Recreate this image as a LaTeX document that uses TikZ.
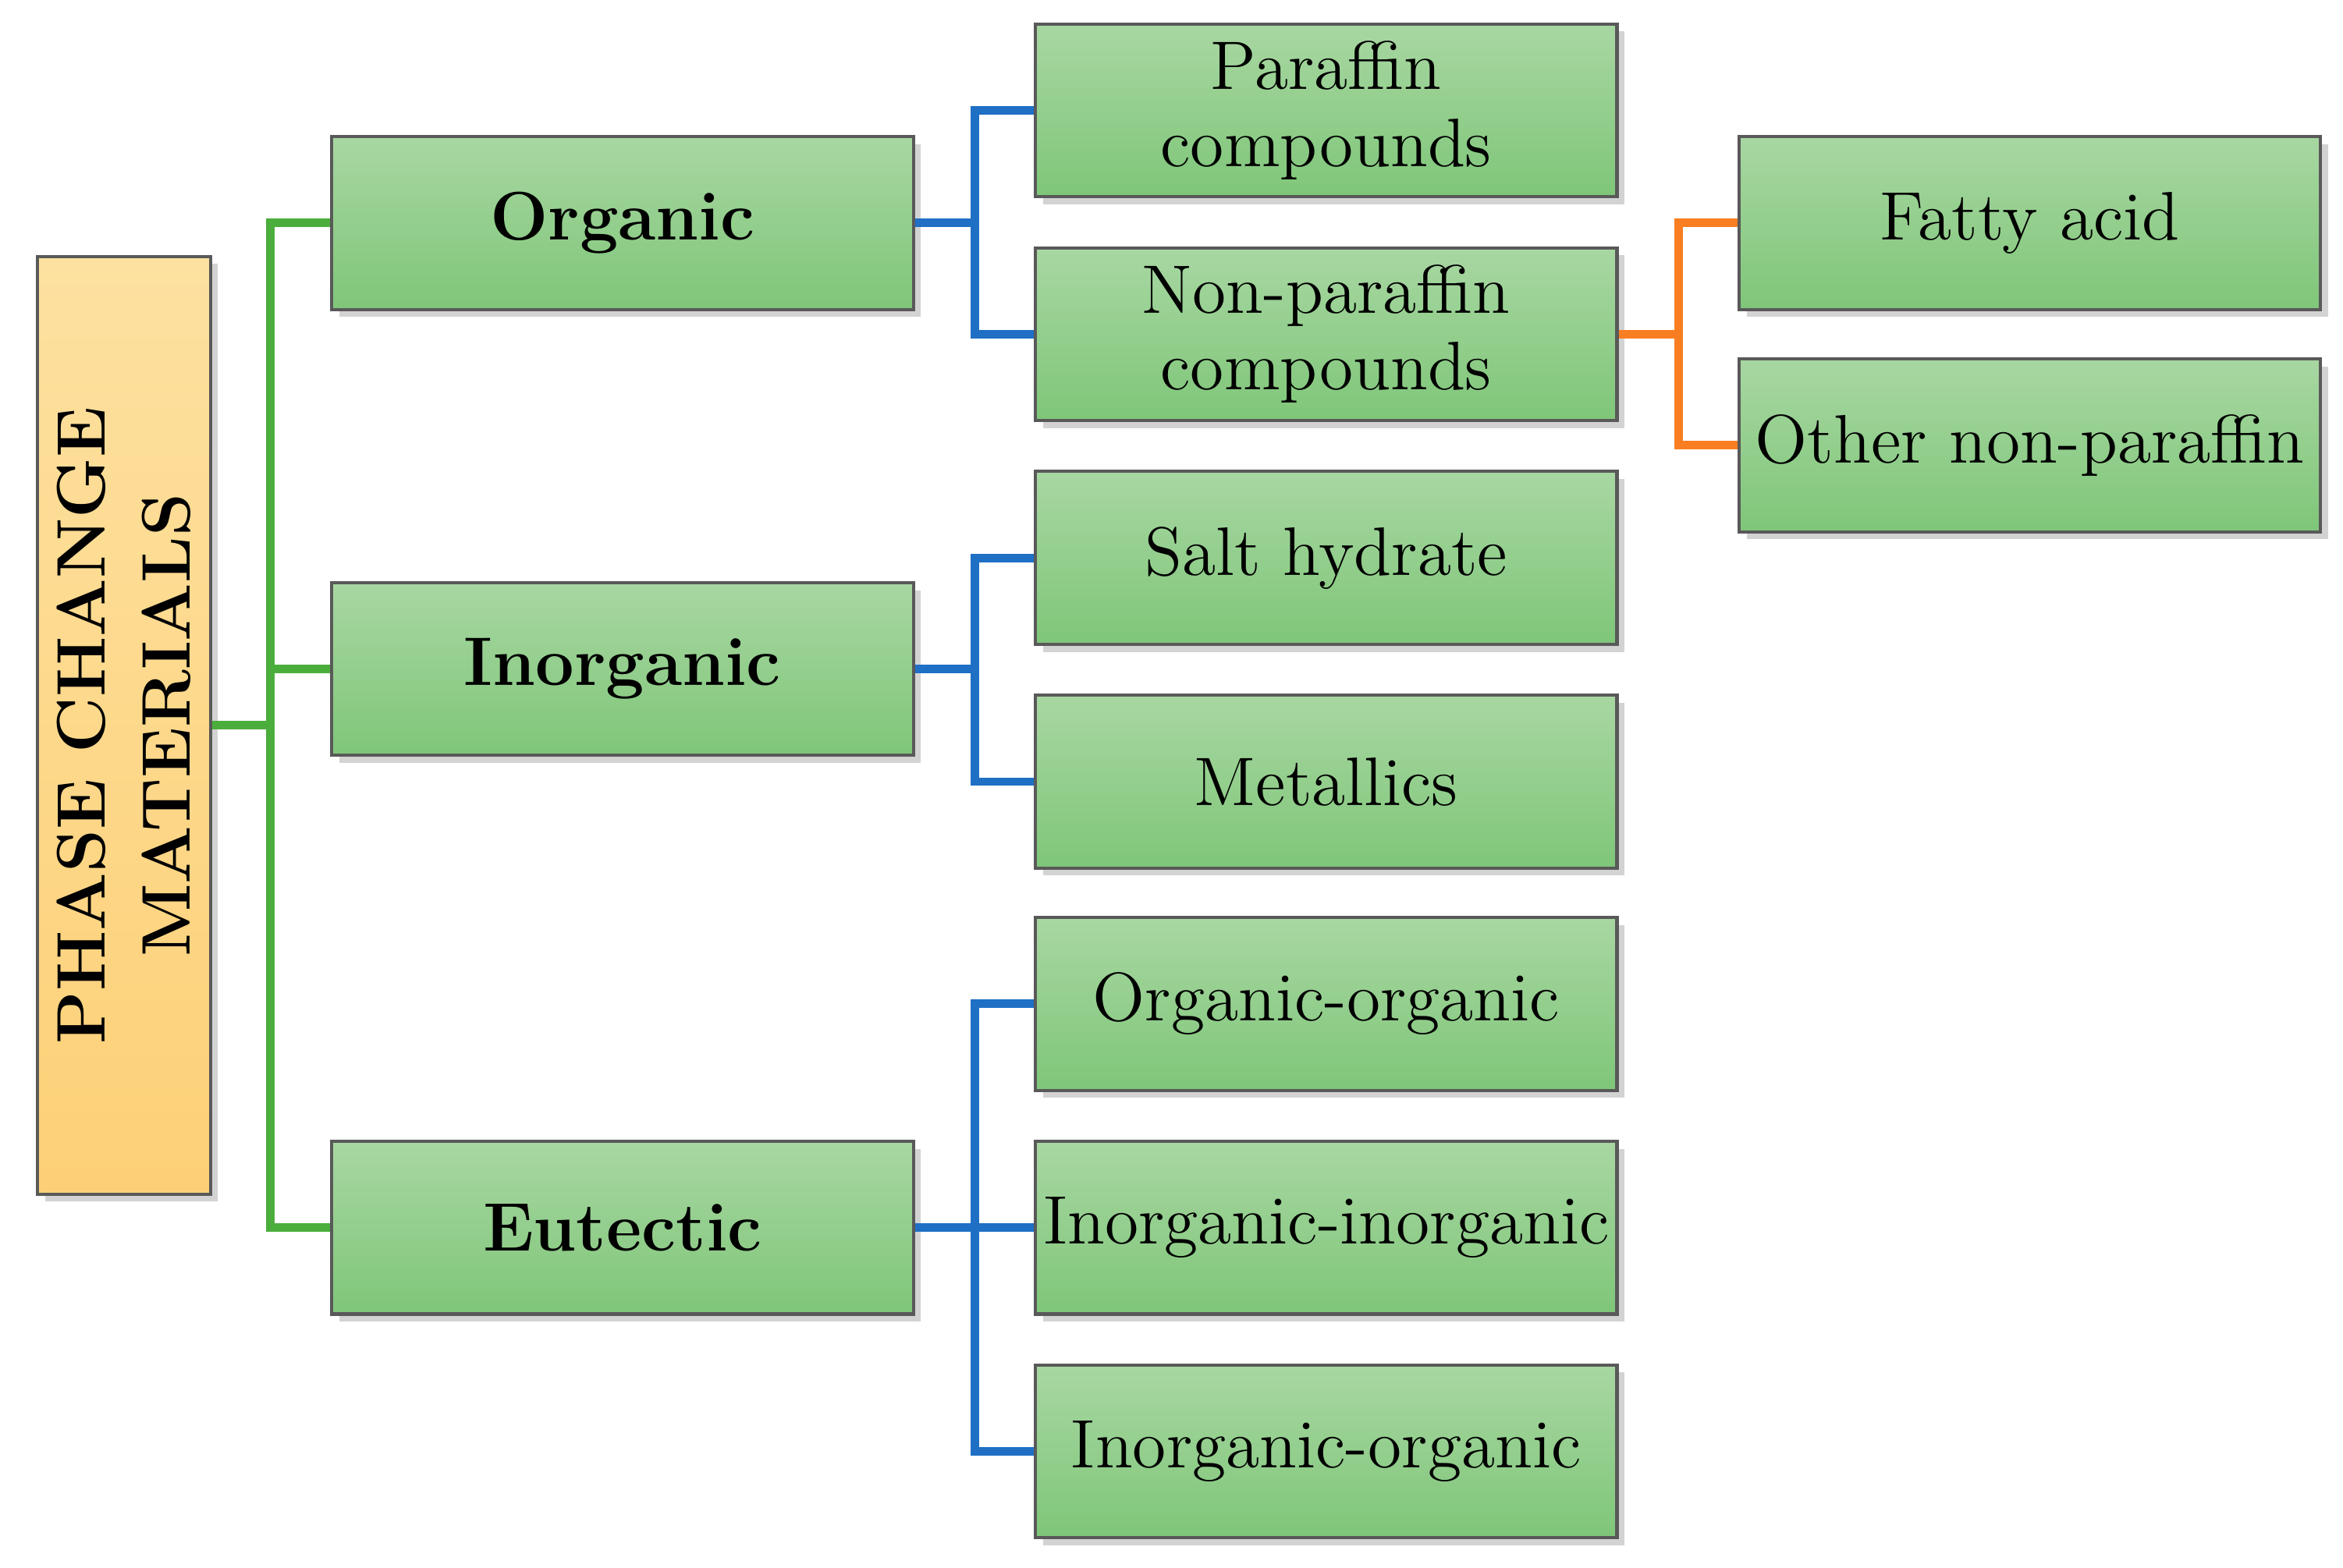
\documentclass[tikz,border=0pt]{standalone}
\usetikzlibrary{shadows}
\definecolor{gtop}{HTML}{A8D7A2}
\definecolor{gbot}{HTML}{7FC679}
\definecolor{otop}{HTML}{FDE1A0}
\definecolor{obot}{HTML}{FDD077}
\definecolor{lgreen}{HTML}{4BAE3C}
\definecolor{lblue}{HTML}{1F6FC5}
\definecolor{lorange}{HTML}{F97E22}
\tikzset{
 box/.style={draw=gray!70!black, line width=0.6pt, top color=gtop, bottom color=gbot,
   minimum width=3.87cm, minimum height=1.15cm, inner sep=0pt, align=center,
   font=\fontsize{13}{14.5}\selectfont, drop shadow={opacity=0.35, shadow xshift=0.5mm, shadow yshift=-0.5mm}},
 bbox/.style={box, font=\fontsize{13}{14.5}\selectfont\bfseries},
 gl/.style={draw=lgreen, line width=1.6pt},
 bl/.style={draw=lblue, line width=1.6pt},
 ol/.style={draw=lorange, line width=1.6pt}
}
\begin{document}
\begin{tikzpicture}[x=0.01cm,y=-0.01cm]
\useasboundingbox (0,0) rectangle (1560,1044);
\node[draw=gray!70!black, line width=0.6pt, top color=otop, bottom color=obot, minimum width=1.15cm, minimum height=6.24cm,
  drop shadow={opacity=0.35, shadow xshift=0.5mm, shadow yshift=-0.5mm}] (pcm) at (82.5,483) {};
\node[rotate=90, align=center, font=\fontsize{13}{16}\selectfont\bfseries] at (pcm.center) {PHASE CHANGE\\MATERIALS};
\node[bbox] (org) at (414.5,148.5) {Organic};
\node[bbox] (inorg) at (414.5,445.5) {Inorganic};
\node[bbox] (eut) at (414.5,817.5) {Eutectic};
\node[box] (par) at (883,73.5) {Paraffin\\compounds};
\node[box] (npar) at (883,222.5) {Non-paraffin\\compounds};
\node[box] (salt) at (883,371.5) {Salt hydrate};
\node[box] (met) at (883,520.5) {Metallics};
\node[box] (oo) at (883,668.5) {Organic-organic};
\node[box] (ii) at (883,817.5) {Inorganic-inorganic};
\node[box] (io) at (883,966.5) {Inorganic-organic};
\node[box] (fat) at (1351.5,148.5) {Fatty acid};
\node[box] (oth) at (1351.5,296.5) {Other non-paraffin};
% green
\draw[gl] (pcm.east) -- ++(39,0) coordinate (g);
\foreach \n in {org,inorg,eut} \draw[gl] (\n.west) -| (g);
% blue
\draw[bl] (org.east) -- ++(40,0) coordinate (b1);
\foreach \n in {par,npar} \draw[bl] (\n.west) -| (b1);
\draw[bl] (inorg.east) -- ++(40,0) coordinate (b2);
\foreach \n in {salt,met} \draw[bl] (\n.west) -| (b2);
\draw[bl] (eut.east) -- ++(40,0) coordinate (b3);
\foreach \n in {oo,ii,io} \draw[bl] (\n.west) -| (b3);
% orange
\draw[ol] (npar.east) -- ++(40,0) coordinate (o1);
\foreach \n in {fat,oth} \draw[ol] (\n.west) -| (o1);
\end{tikzpicture}
\end{document}
